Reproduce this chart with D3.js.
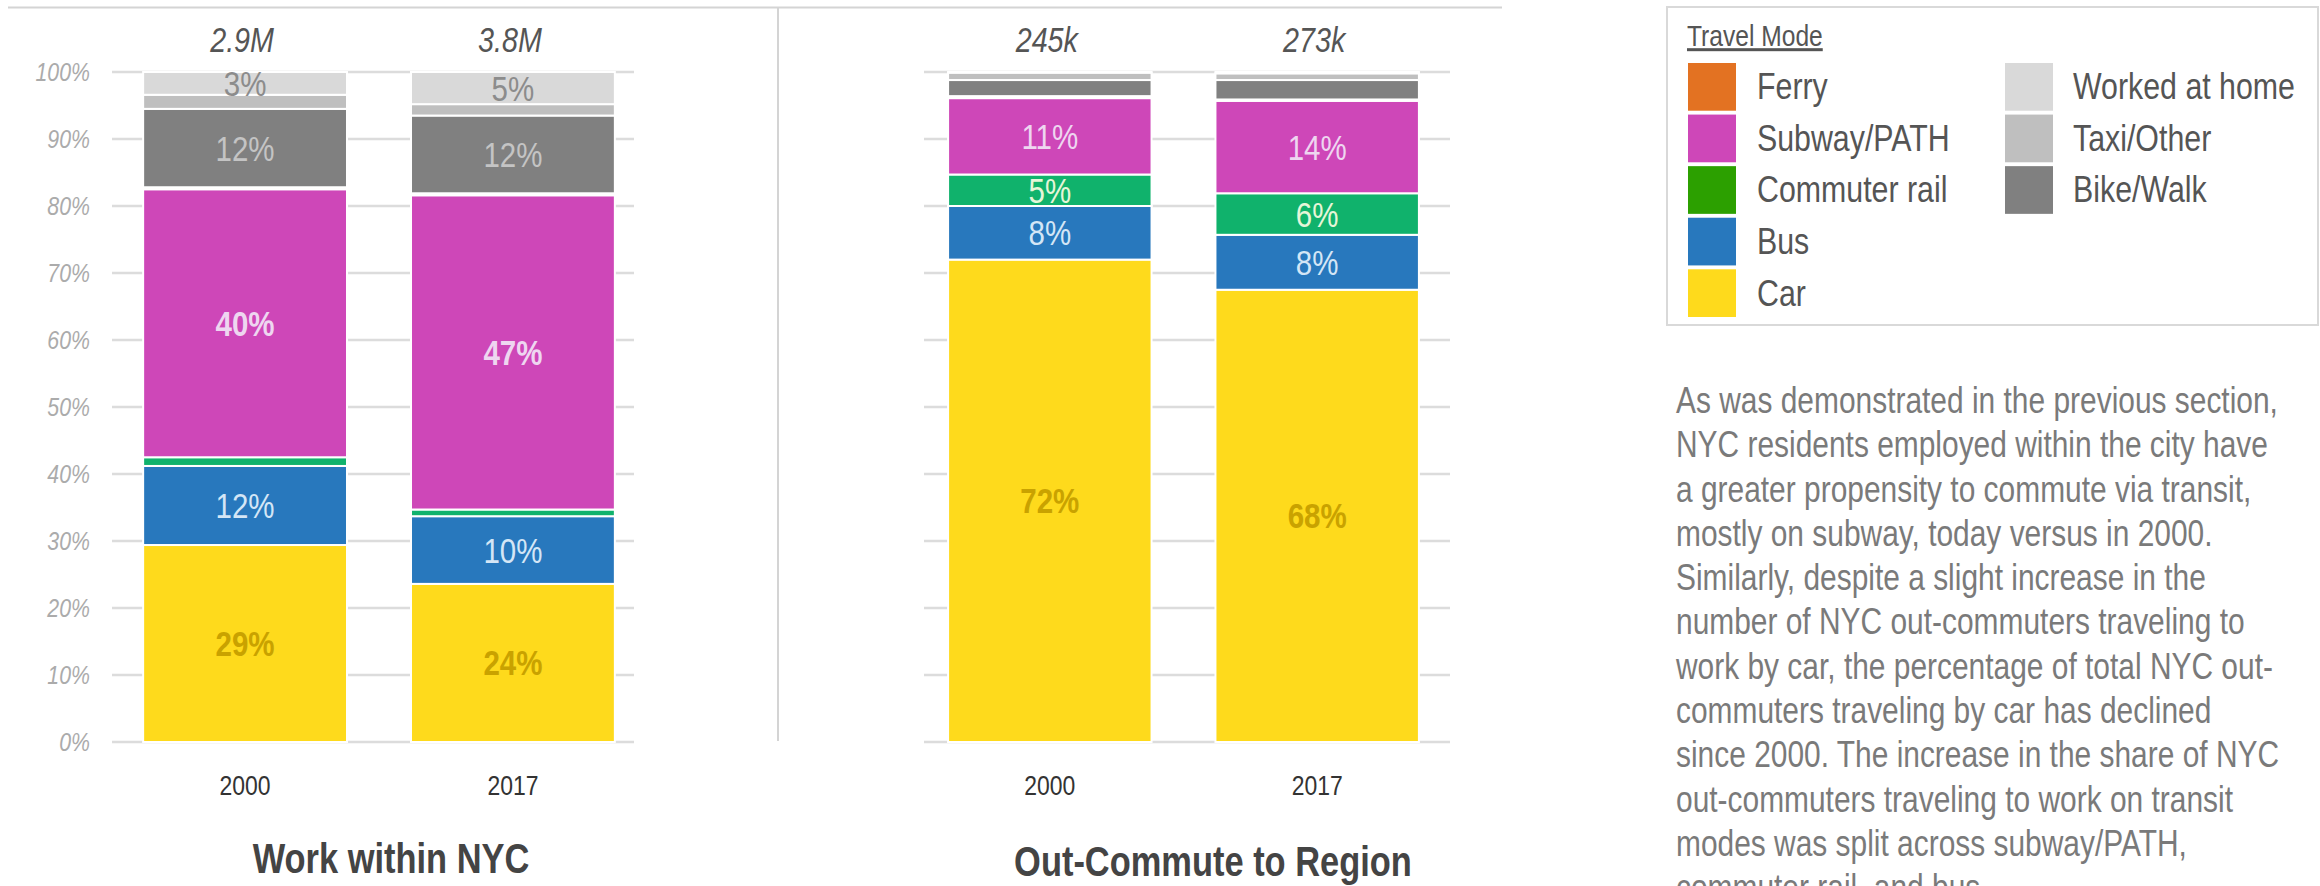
<!DOCTYPE html>
<html>
<head>
<meta charset="utf-8">
<script src="https://cdn.jsdelivr.net/npm/d3@7"></script>
<style>
  html, body { margin: 0; padding: 0; background: #fff; overflow: hidden; }
  svg { display: block; }
</style>
</head>
<body>
<svg id="chart" width="2320" height="886"></svg>
<script>
// Travel modes, stacked bottom to top
const modes = ["Car", "Bus", "Commuter rail", "Subway/PATH", "Ferry", "Bike/Walk", "Taxi/Other", "Worked at home"];
const years = ["2000", "2017"];

// Mode shares (%) for NYC residents working within the city
const within2000 = [29.4, 11.8, 1.3, 40.0, 0.3, 11.7, 2.1, 3.4];
const within2017 = [23.6, 10.1, 1.0, 46.9, 0.3, 11.6, 1.7, 4.8];
// Mode shares (%) for NYC residents commuting out to the region
const out2000 = [72.0, 8.0, 4.7, 11.4, 0.3, 2.4, 1.1, 0.1];
const out2017 = [67.5, 8.2, 6.2, 13.8, 0.2, 2.9, 1.0, 0.2];

// Total commuters shown above each bar
const withinTotals = ["2.9M", "3.8M"];
const outTotals = ["245k", "273k"];

// Y-axis ticks (percent)
const yTicks = [0, 10, 20, 30, 40, 50, 60, 70, 80, 90, 100];

// Legend layout: two columns
const legendCol1 = ["Ferry", "Subway/PATH", "Commuter rail", "Bus", "Car"];
const legendCol2 = ["Worked at home", "Taxi/Other", "Bike/Walk"];

const paragraph = [
  "As was demonstrated in the previous section,",
  "NYC residents employed within the city have",
  "a greater propensity to commute via transit,",
  "mostly on subway, today versus in 2000.",
  "Similarly, despite a slight increase in the",
  "number of NYC out-commuters traveling to",
  "work by car, the percentage of total NYC out-",
  "commuters traveling by car has declined",
  "since 2000. The increase in the share of NYC",
  "out-commuters traveling to work on transit",
  "modes was split across subway/PATH,",
  "commuter rail, and bus."
];

const barColor = {
  "Car": "#FEDA1C",
  "Bus": "#2878BD",
  "Commuter rail": "#10B26C",
  "Subway/PATH": "#CE47B8",
  "Ferry": "#E37222",
  "Bike/Walk": "#808080",
  "Taxi/Other": "#BFBFBF",
  "Worked at home": "#D9D9D9"
};
const legendColor = Object.assign({}, barColor, { "Commuter rail": "#2CA000" });
const labelColor = {
  "Car": "#C9A200",
  "Bus": "#D4E6F6",
  "Commuter rail": "#E6F6D8",
  "Subway/PATH": "#EED6F0",
  "Ferry": "#FFFFFF",
  "Bike/Walk": "#C4C4C4",
  "Taxi/Other": "#888888",
  "Worked at home": "#8C8C8C"
};

// Pick a condensed face if one is installed, otherwise squeeze the regular face
function hasFont(name) {
  const ctx = document.createElement("canvas").getContext("2d");
  const probe = "Subway/PATH mmmwwiii 2017";
  ctx.font = `40px monospace`;
  const a = ctx.measureText(probe).width;
  ctx.font = `40px "${name}", monospace`;
  const b = ctx.measureText(probe).width;
  return Math.abs(a - b) > 0.5;
}
const NARROW = hasFont("Liberation Sans Narrow");
const FONT = NARROW ? '"Liberation Sans Narrow", "Arial Narrow", sans-serif' : '"Liberation Sans", Arial, sans-serif';
const SQUEEZE = NARROW ? 1 : 0.82;

const svg = d3.select("#chart");

function addText(g, x, y, s, o = {}) {
  const t = g.append("text")
    .attr("x", x).attr("y", y).text(s)
    .attr("font-family", FONT)
    .attr("font-size", o.size || 28)
    .attr("fill", o.fill || "#333")
    .attr("text-anchor", o.anchor || "middle");
  if (o.weight) t.attr("font-weight", o.weight);
  if (o.italic) t.attr("font-style", "italic");
  if (o.underline) t.attr("text-decoration", "underline");
  if (SQUEEZE !== 1) t.attr("transform", `translate(${x},0) scale(${SQUEEZE},1) translate(${-x},0)`);
  return t;
}

// Frame: top rule and the divider between the two panels
svg.append("line").attr("x1", 8).attr("x2", 1502).attr("y1", 7.5).attr("y2", 7.5)
  .attr("stroke", "#d4d4d4").attr("stroke-width", 2);
svg.append("line").attr("x1", 778).attr("x2", 778).attr("y1", 7).attr("y2", 741)
  .attr("stroke", "#d4d4d4").attr("stroke-width", 2);

const y = d3.scaleLinear().domain([0, 100]).range([742, 72]);

const panels = [
  { title: "Work within NYC", values: [within2000, within2017], totals: withinTotals,
    range: [111, 647], grid: [112, 634], axis: true, titleX: 391, titleY: 873 },
  { title: "Out-Commute to Region", values: [out2000, out2017], totals: outTotals,
    range: [916, 1451], grid: [924, 1450], axis: false, titleX: 1213, titleY: 876 }
];

panels.forEach(p => {
  const g = svg.append("g");
  const x = d3.scaleBand().domain(years).range(p.range).paddingInner(0.239).paddingOuter(0.12);

  // gridlines
  g.selectAll("line.grid").data(yTicks).join("line")
    .attr("class", "grid")
    .attr("x1", p.grid[0]).attr("x2", p.grid[1])
    .attr("y1", d => y(d)).attr("y2", d => y(d))
    .attr("stroke", "#dcdcdc").attr("stroke-width", 2.5);

  if (p.axis) {
    yTicks.forEach(t => addText(g, 90, y(t) + 9, t + "%", { size: 26, fill: "#ababab", italic: true, anchor: "end" }));
  }

  const rows = years.map((yr, i) => {
    const r = { year: yr };
    modes.forEach((m, j) => { r[m] = p.values[i][j]; });
    return r;
  });
  const series = d3.stack().keys(modes)(rows);

  series.forEach(s => {
    g.selectAll(null).data(s).join("rect")
      .attr("x", d => x(d.data.year))
      .attr("width", x.bandwidth())
      .attr("y", d => y(d[1]))
      .attr("height", d => Math.max(0, y(d[0]) - y(d[1])))
      .attr("fill", barColor[s.key])
      .attr("stroke", "#fff").attr("stroke-width", 2);
  });

  // segment value labels
  series.forEach(s => {
    s.forEach(d => {
      const v = d[1] - d[0];
      if (v < 3) return;
      const cy = (y(d[0]) + y(d[1])) / 2;
      addText(g, x(d.data.year) + x.bandwidth() / 2, cy + 12.5, Math.round(v) + "%", {
        size: 36, fill: labelColor[s.key], weight: v >= 20 ? "bold" : null
      });
    });
  });

  // totals above bars
  years.forEach((yr, i) => addText(g, x(yr) + x.bandwidth() / 2 - 3, 52, p.totals[i],
    { size: 35, fill: "#555", italic: true }));

  // category labels
  years.forEach(yr => addText(g, x(yr) + x.bandwidth() / 2, 795, yr, { size: 28, fill: "#333" }));

  addText(g, p.titleX, p.titleY, p.title, { size: 42, weight: "bold", fill: "#444" });
});

// Legend
const lg = svg.append("g");
lg.append("rect").attr("x", 1667).attr("y", 7).attr("width", 651).attr("height", 318)
  .attr("fill", "none").attr("stroke", "#d9d9d9").attr("stroke-width", 2);
addText(lg, 1687, 46, "Travel Mode", { size: 30, fill: "#555", anchor: "start", underline: true });

const rowY = d3.scaleBand().domain(d3.range(5)).range([63, 317]).paddingInner(0.075).paddingOuter(0);
[[legendCol1, 1688, 1757], [legendCol2, 2005, 2073]].forEach(([items, sx, tx]) => {
  items.forEach((m, i) => {
    lg.append("rect").attr("x", sx).attr("y", rowY(i)).attr("width", 48).attr("height", rowY.bandwidth())
      .attr("fill", legendColor[m]);
    addText(lg, tx, rowY(i) + rowY.bandwidth() / 2 + 12.5, m, { size: 37, fill: "#555", anchor: "start" });
  });
});

// Commentary text
const tg = svg.append("g");
paragraph.forEach((line, i) => addText(tg, 1676, 413 + i * 44.3, line, { size: 36.5, fill: "#7a7a7a", anchor: "start" }));
</script>
</body>
</html>
